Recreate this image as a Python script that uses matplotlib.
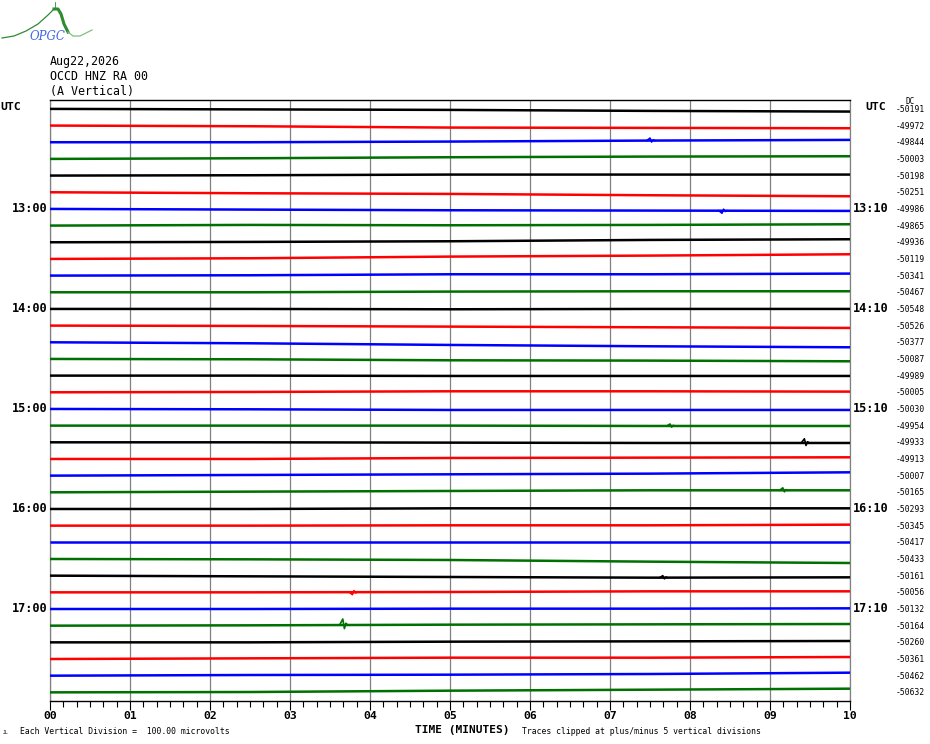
import numpy as np
import matplotlib
matplotlib.use("Agg")
import matplotlib.pyplot as plt
from matplotlib.transforms import blended_transform_factory

# ---------------- data ----------------
date_text = "Aug22,2026"
station_text = "OCCD HNZ RA 00"
component_text = "(A Vertical)"
n_traces = 36
trace_colors = ["black", "red", "blue", "#007000"]
minute_ticks = list(range(11))
minute_labels = ["00", "01", "02", "03", "04", "05", "06", "07", "08", "09", "10"]
left_hour_labels = ["13:00", "14:00", "15:00", "16:00", "17:00"]
right_hour_labels = ["13:10", "14:10", "15:10", "16:10", "17:10"]
hour_label_traces = [6, 12, 18, 24, 30]
dc_values = [-50191, -49972, -49844, -50003, -50198, -50251, -49986, -49865,
             -49936, -50119, -50341, -50467, -50548, -50526, -50377, -50087,
             -49989, -50005, -50030, -49954, -49933, -49913, -50007, -50165,
             -50293, -50345, -50417, -50433, -50161, -50056, -50132, -50164,
             -50260, -50361, -50462, -50632]
# drift of each trace (microvolts, positive = up) read at these minutes
drift_minutes = [0, 2.5, 5, 7.5, 10]
drift_uv = [
    [0, -30, -60, -120, -160], [0, -40, -120, -140, -160], [0, 0, 40, 100, 140], [0, 40, 100, 140, 160],
    [0, 20, 60, 60, 60], [0, -60, -100, -180, -240], [0, -40, -80, -100, -120], [0, 40, 20, 40, 80],
    [0, 20, 60, 140, 180], [0, 40, 140, 200, 280], [0, 20, 80, 80, 120], [0, 0, 40, 60, 60],
    [0, 0, -20, 0, 0], [0, -20, -60, -100, -140], [0, -60, -160, -240, -300], [0, -20, -80, -100, -140],
    [0, 0, -20, -20, -20], [0, 20, 60, 60, 40], [0, -20, -60, -60, -60], [0, 0, 0, -20, -20],
    [0, 0, -20, -40, -40], [0, 0, 60, 80, 100], [0, 40, 80, 120, 200], [0, 40, 80, 120, 120],
    [0, 0, 40, 40, 40], [0, 0, 20, 20, 60], [0, 0, 0, 0, 0], [0, -20, -60, -160, -240],
    [0, -40, -80, -120, -100], [0, 0, 20, 60, 60], [0, 0, 20, 20, 40], [0, 20, 60, 80, 100],
    [0, 0, 40, 60, 80], [0, 40, 80, 80, 120], [0, 40, 60, 100, 180], [0, 20, 100, 160, 220],
]
# small events: trace index, minute, peak amplitude (microvolts)
event_traces = [2, 6, 20, 31, 19, 23, 29, 28]
event_minutes = [7.5, 8.4, 9.43, 3.66, 7.75, 9.16, 3.78, 7.66]
event_amps = [150, -150, 250, 360, 120, 150, -150, 120]
event_shape_dt = [-0.04, -0.02, 0.0, 0.02, 0.04, 0.06]
event_shape_rel = [0.0, 0.5, 1.0, -0.6, 0.3, 0.0]
UV_PER_TRACE = 1000.0

# ---------------- figure ----------------
W, H = 930, 744
fig = plt.figure(figsize=(W / 100, H / 100), dpi=100)
fig.patch.set_facecolor("white")

def fx(px):
    return px / W

def fy(py):
    return 1 - py / H

ax_l, ax_r, ax_t, ax_b = 50, 850, 100, 701
ax = fig.add_axes([fx(ax_l), fy(ax_b), (ax_r - ax_l) / W, (ax_b - ax_t) / H])
first_y, spacing = 108.9, 16.67
ax.set_xlim(0, 10)
ax.set_ylim((ax_b - first_y) / spacing, (ax_t - first_y) / spacing)

for m in minute_ticks:
    ax.axvline(m, color="#808080", lw=0.9, zorder=1)

for i in range(n_traces):
    xs = list(drift_minutes)
    ys = [i - d / UV_PER_TRACE for d in drift_uv[i]]
    c = trace_colors[i % 4]
    ax.plot(xs, ys, color=c, lw=1.8, solid_capstyle="butt", zorder=3)

for tr, mn, amp in zip(event_traces, event_minutes, event_amps):
    base = np.interp(mn, drift_minutes, drift_uv[tr])
    ex = [mn + d for d in event_shape_dt]
    ey = [tr - (base + amp * r) / UV_PER_TRACE for r in event_shape_rel]
    ax.plot(ex, ey, color=trace_colors[tr % 4], lw=1.2, zorder=4)

for s in ["left", "right"]:
    ax.spines[s].set_color("#808080")
    ax.spines[s].set_linewidth(0.9)
for s in ["top", "bottom"]:
    ax.spines[s].set_color("black")
    ax.spines[s].set_linewidth(1.0)

ax.set_yticks([])
ax.set_xticks(minute_ticks)
ax.set_xticklabels(minute_labels, fontfamily="DejaVu Sans Mono", fontweight="bold", fontsize=8.2)
ax.set_xticks(np.arange(0, 10.01, 1 / 6), minor=True)
ax.tick_params(axis="x", which="major", direction="out", length=6.5, width=0.8, pad=1.0, color="black")
ax.tick_params(axis="x", which="minor", direction="out", length=4.3, width=0.8, color="black")

mono = "DejaVu Sans Mono"
tr_blend = blended_transform_factory(ax.transAxes, ax.transData)
for lab, t in zip(left_hour_labels, hour_label_traces):
    ax.text(-0.003, t, lab, transform=tr_blend, ha="right", va="center",
            fontfamily=mono, fontweight="bold", fontsize=8.6, clip_on=False)
for lab, t in zip(right_hour_labels, hour_label_traces):
    ax.text(1.003, t, lab, transform=tr_blend, ha="left", va="center",
            fontfamily=mono, fontweight="bold", fontsize=8.6, clip_on=False)
for i, v in enumerate(dc_values):
    ax.text((925 - ax_l) / (ax_r - ax_l), i + 0.03, "%d" % v, transform=tr_blend, ha="right",
            va="center", fontfamily=mono, fontsize=5.8, clip_on=False)

fig.text(fx(910), fy(102), "DC", ha="center", va="center", fontfamily=mono, fontsize=5.6)
fig.text(fx(0), fy(107), "UTC", ha="left", va="center", fontfamily=mono, fontweight="bold", fontsize=8.2)
fig.text(fx(865), fy(107), "UTC", ha="left", va="center", fontfamily=mono, fontweight="bold", fontsize=8.2)

fig.text(fx(50), fy(61), date_text, ha="left", va="center", fontfamily=mono, fontsize=8.4)
fig.text(fx(50), fy(76), station_text, ha="left", va="center", fontfamily=mono, fontsize=8.4)
fig.text(fx(50), fy(91), component_text, ha="left", va="center", fontfamily=mono, fontsize=8.4)

fig.text(fx(462), fy(730), "TIME (MINUTES)", ha="center", va="center", fontfamily=mono,
         fontweight="bold", fontsize=8.0)
fig.text(fx(20), fy(731), "Each Vertical Division =  100.00 microvolts", ha="left", va="center",
         fontfamily=mono, fontsize=5.9)
fig.text(fx(522), fy(731), "Traces clipped at plus/minus 5 vertical divisions", ha="left", va="center",
         fontfamily=mono, fontsize=5.9)
fig.text(fx(3), fy(733), "JL", ha="left", va="center", fontfamily=mono, fontsize=3.5)

# logo
lg = fig.add_axes([0, fy(46), 100 / W, 46 / H])
lg.set_xlim(0, 100)
lg.set_ylim(46, 0)
lg.axis("off")
lx = [2, 14, 26, 38, 48, 54, 58, 61, 64, 68, 73, 80, 92]
ly = [38, 36, 31, 24, 15, 9, 9, 14, 24, 32, 36, 36, 30]
lg.plot(lx[:6], ly[:6], color="#2e8b2e", lw=0.9)
lg.plot(lx[5:10], ly[5:10], color="#2e8b2e", lw=2.2)
lg.plot(lx[9:], ly[9:], color="#7fbf7f", lw=0.9)
lg.plot([55, 55], [2, 9], color="#2e8b2e", lw=0.6)
lg.text(47, 36, "OPGC", ha="center", va="center", fontsize=8.5, style="italic",
        color="#4169e1", fontfamily="DejaVu Serif")

fig.savefig("out.png", dpi=100, facecolor="white")
